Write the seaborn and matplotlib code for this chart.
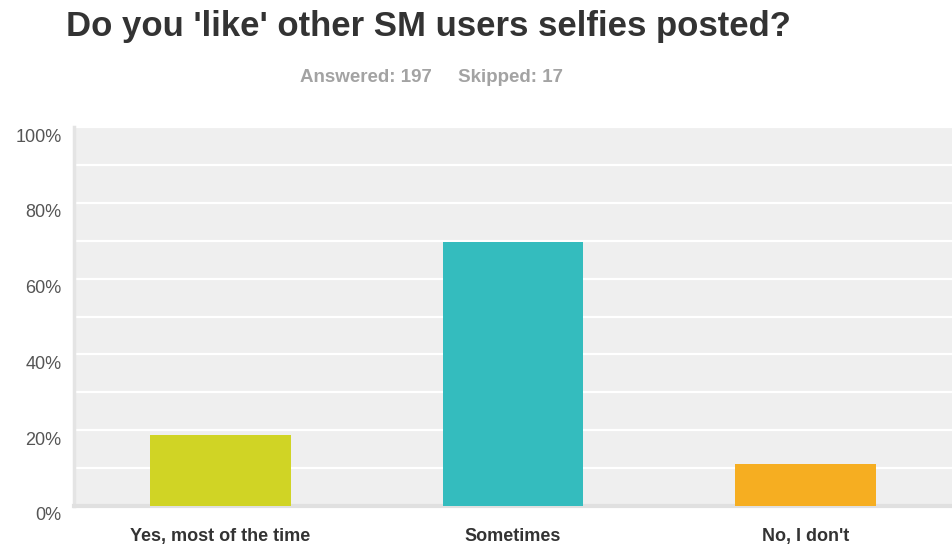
import matplotlib
matplotlib.use("Agg")
import matplotlib.pyplot as plt
from matplotlib.transforms import ScaledTranslation
import seaborn as sns
import pandas as pd

categories = ["Yes, most of the time", "Sometimes", "No, I don't"]
percentages = [18.78, 69.54, 11.17]
bar_colors = ["#d0d425", "#34bcbe", "#f6ae21"]
y_ticks = [0, 20, 40, 60, 80, 100]
y_tick_labels = ["0%", "20%", "40%", "60%", "80%", "100%"]
title = "Do you 'like' other SM users selfies posted?"
subtitle = "Answered: 197     Skipped: 17"

df = pd.DataFrame({"answer": categories, "pct": percentages})

sns.set_theme(style="white")
plt.rcParams["font.family"] = ["Liberation Sans", "DejaVu Sans"]

fig = plt.figure(figsize=(9.52, 5.51), dpi=100)
ax = fig.add_axes([74 / 952, 1 - 506 / 551, 1 - 74 / 952, (506 - 127) / 551])

sns.barplot(data=df, x="answer", y="pct", hue="answer", palette=bar_colors,
            order=categories, hue_order=categories, width=0.48,
            legend=False, saturation=1, linewidth=0, ax=ax, zorder=3)

ax.set_facecolor("#efefef")
ax.set_xlim(-0.5, 2.5)
ax.set_ylim(0, 100)
ax.set_axisbelow(True)
ax.set_yticks(y_ticks)
ax.set_yticklabels(y_tick_labels)
ax.set_yticks(range(10, 100, 20), minor=True)
ax.yaxis.grid(True, which="both", color="white", linewidth=1.6)
ax.set_xlabel("")
ax.set_ylabel("")

for side in ["top", "right"]:
    ax.spines[side].set_visible(False)
ax.spines["left"].set_color("#e4e4e4")
ax.spines["left"].set_linewidth(2.5)
ax.spines["bottom"].set_color("#e0e0e0")
ax.spines["bottom"].set_linewidth(3)

ax.tick_params(axis="y", which="both", length=0, pad=9, labelsize=13, labelcolor="#555555")
ax.tick_params(axis="x", length=0, pad=16, labelsize=13, labelcolor="#333333")
for lbl in ax.get_xticklabels():
    lbl.set_fontweight("bold")
shift = ScaledTranslation(0, -8 / 100, fig.dpi_scale_trans)
for lbl in ax.get_yticklabels():
    lbl.set_transform(lbl.get_transform() + shift)

fig.text(66 / 952, 1 - 36 / 551, title, fontsize=25, fontweight="bold",
         color="#333333", ha="left", va="baseline")
fig.text(431 / 952, 1 - 78 / 551, subtitle, fontsize=13.5, fontweight="bold",
         color="#a3a3a3", ha="center", va="center")

fig.savefig("out.png", dpi=100)
